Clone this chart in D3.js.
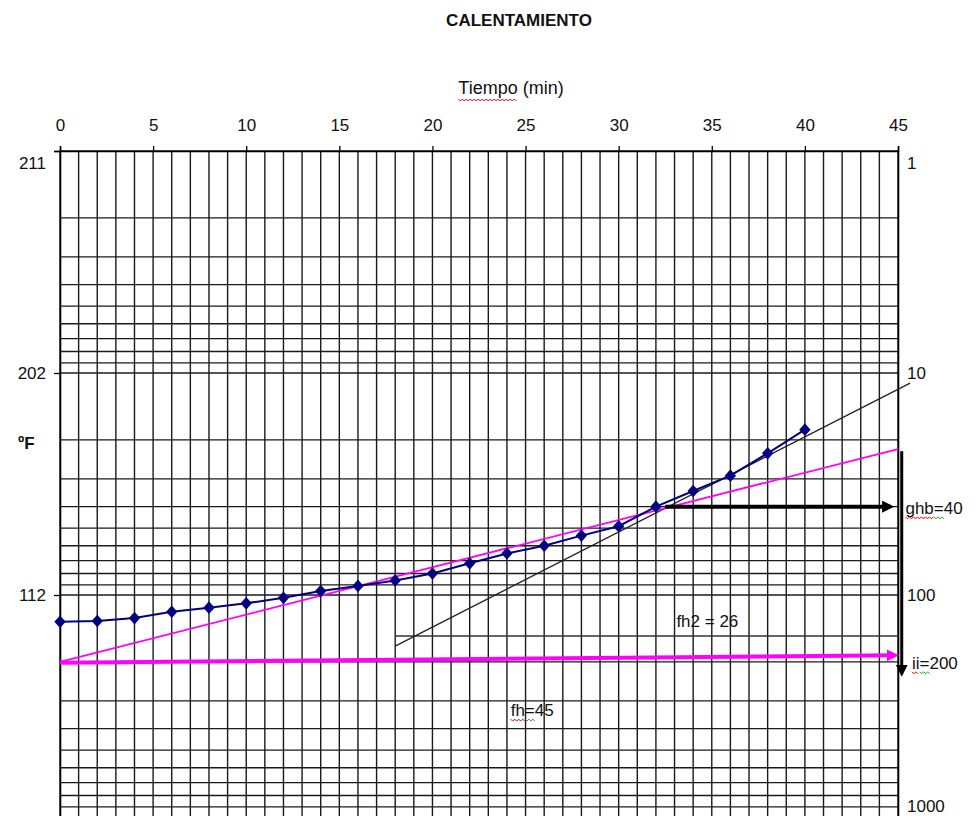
<!DOCTYPE html>
<html>
<head>
<meta charset="utf-8">
<script src="https://cdn.jsdelivr.net/npm/d3@7"></script>
<style>
  body { margin: 0; background: #fff; }
  text { font-family: "Liberation Sans", Arial, sans-serif; fill: #111; }
</style>
</head>
<body>
<div id="chart"></div>
<script>
// data
var minutes = [0, 2, 4, 6, 8, 10, 12, 14, 16, 18, 20, 22, 24, 26, 28, 30, 32, 34, 36, 38, 40];
var values  = [132, 131, 127, 119, 114, 109, 103, 96, 91, 86, 80, 72, 65, 60, 54, 49, 40, 34, 29, 23, 18];
var xTicks = [0, 5, 10, 15, 20, 25, 30, 35, 40, 45];
var rightTicks = [1, 10, 100, 1000];
var leftTicks = [1, 10, 100];
var leftLabels = ["211", "202", "112"];

// hand drawn lines on the chart (minutes, log value)
var blackTrend = [[18, 170], [45.65, 11.1]];
var pinkTrend = [[0, 200], [45, 22]];
var fh2Line = [[18, 153], [45, 153]];
var jiArrow = [[0, 202], [44.85, 187]];
var ghbArrow = [[32.5, 40], [44.6, 40]];
var downArrow = [[45.2, 22.5], [45.2, 225]];
var notes = [
  {t: "fh2 = 26", x: 33.1, v: 131, sq: 0},
  {t: "fh=45", x: 24.2, v: 330, sq: 2},
  {t: "ghb=40", x: 45.4, v: 40.5, sq: 3},
  {t: "ii=200", x: 45.75, v: 202, sq: 2}
];

var W = 977, H = 816;
var svg = d3.select("#chart").append("svg")
  .attr("width", W).attr("height", H);

var x = d3.scaleLinear().domain([0, 45]).range([60, 898]);
var y = d3.scaleLog().domain([1, 1000]).range([151, 817]);

var defs = svg.append("defs");
function marker(id, color, len, wid) {
  defs.append("marker")
    .attr("id", id)
    .attr("markerUnits", "userSpaceOnUse")
    .attr("viewBox", "0 0 10 10")
    .attr("refX", 7).attr("refY", 5)
    .attr("markerWidth", len).attr("markerHeight", wid)
    .attr("orient", "auto")
    .append("path").attr("d", "M0,0L10,5L0,10z").attr("fill", color);
}
marker("arrBlack", "#000", 12, 12);
marker("arrPink", "#ff00ff", 12, 12);

// grid
var grid = svg.append("g");
grid.selectAll(".v").data(d3.range(0, 46)).enter().append("line")
  .attr("x1", function(d) { return x(d); }).attr("x2", function(d) { return x(d); })
  .attr("y1", y(1)).attr("y2", y(1000))
  .attr("stroke", "#1a1a1a").attr("stroke-width", 1.4);
grid.selectAll(".h").data(y.ticks()).enter().append("line")
  .attr("x1", x(0)).attr("x2", x(45))
  .attr("y1", function(d) { return y(d); }).attr("y2", function(d) { return y(d); })
  .attr("stroke", "#1a1a1a").attr("stroke-width", 1.4);

// top axis
var topAx = svg.append("g").attr("transform", "translate(0," + y(1) + ")")
  .call(d3.axisTop(x).tickValues(xTicks).tickSize(5).tickPadding(15));
topAx.select(".domain").attr("stroke", "#000").attr("stroke-width", 1.6);
topAx.selectAll("line").attr("stroke", "#000").attr("stroke-width", 1.3);
topAx.selectAll("text").style("font-size", "17px").attr("fill", "#111");

// left axis
var leftAx = svg.append("g").attr("transform", "translate(" + x(0) + ",0)")
  .call(d3.axisLeft(y).tickValues(leftTicks).tickSize(6).tickPadding(8)
    .tickFormat(function(d, i) { return leftLabels[i]; }));
leftAx.select(".domain").attr("stroke", "#000").attr("stroke-width", 1.6);
leftAx.selectAll("line").attr("stroke", "#000").attr("stroke-width", 1.3);
leftAx.selectAll("text").style("font-size", "17px").attr("fill", "#111")
  .attr("y", function(d) { return Math.max(y(d), 163) - y(d); }).attr("dy", "0.35em");

// right axis
var rightAx = svg.append("g").attr("transform", "translate(" + x(45) + ",0)")
  .call(d3.axisRight(y).tickValues(rightTicks).tickSize(0).tickPadding(9)
    .tickFormat(d3.format("d")));
rightAx.select(".domain").attr("stroke", "#000").attr("stroke-width", 1.6);
rightAx.selectAll("text").style("font-size", "17px").attr("fill", "#111")
  .attr("y", function(d) { return Math.min(Math.max(y(d), 163), 806) - y(d); }).attr("dy", "0.35em");

// titles
svg.append("text").attr("x", 519).attr("y", 26).attr("text-anchor", "middle")
  .style("font-size", "17px").style("font-weight", "bold").text("CALENTAMIENTO");
var xt = svg.append("text").attr("x", 511).attr("y", 94).attr("text-anchor", "middle")
  .style("font-size", "18px").text("Tiempo (min)");
svg.append("text").attr("x", 18).attr("y", 449)
  .style("font-size", "17px").style("font-weight", "bold").text("ºF");

var line = d3.line().x(function(d) { return x(d[0]); }).y(function(d) { return y(d[1]); });

// drawn lines
svg.append("path").datum(fh2Line).attr("d", line)
  .attr("stroke", "#333").attr("stroke-width", 1.3).attr("fill", "none");
svg.append("path").datum(blackTrend).attr("d", line)
  .attr("stroke", "#222").attr("stroke-width", 1.3).attr("fill", "none");
svg.append("path").datum(pinkTrend).attr("d", line)
  .attr("stroke", "#ff00ff").attr("stroke-width", 1.8).attr("fill", "none");
svg.append("path").datum(jiArrow).attr("d", line)
  .attr("stroke", "#ff00ff").attr("stroke-width", 4).attr("fill", "none")
  .attr("marker-end", "url(#arrPink)");
svg.append("path").datum(ghbArrow).attr("d", line)
  .attr("stroke", "#000").attr("stroke-width", 4).attr("fill", "none")
  .attr("marker-end", "url(#arrBlack)");
svg.append("path").datum(downArrow).attr("d", line)
  .attr("stroke", "#000").attr("stroke-width", 3).attr("fill", "none")
  .attr("marker-end", "url(#arrBlack)");

// series
var pts = minutes.map(function(m, i) { return [m, values[i]]; });
svg.append("path").datum(pts).attr("d", line)
  .attr("stroke", "#000080").attr("stroke-width", 2).attr("fill", "none");
svg.selectAll(".pt").data(pts).enter().append("path")
  .attr("d", d3.symbol().type(d3.symbolSquare).size(64))
  .attr("transform", function(d) { return "translate(" + x(d[0]) + "," + y(d[1]) + ") scale(1,1.12) rotate(45)"; })
  .attr("fill", "#000080");

// notes
function squiggle(x0, x1, yy, color) {
  var p = d3.path(); p.moveTo(x0, yy);
  var k = 0;
  for (var xx = x0 + 2; xx <= x1; xx += 2) { k++; p.lineTo(xx, yy + (k % 2 ? 2 : 0)); }
  svg.append("path").attr("d", p.toString()).attr("stroke", color)
    .attr("stroke-width", 1).attr("fill", "none");
}
notes.forEach(function(n) {
  var t = svg.append("text").attr("x", x(n.x)).attr("y", y(n.v)).attr("dy", "0.35em")
    .style("font-size", "17px").text(n.t);
  if (n.sq) {
    var node = t.node();
    var a = node.getStartPositionOfChar(0).x, b = node.getEndPositionOfChar(n.sq - 1).x;
    var c = node.getEndPositionOfChar(n.sq).x;
    squiggle(a, b, y(n.v) + 9, "#e00000");
    squiggle(b, c + 2, y(n.v) + 9, "#2a9a2a");
  }
});
var xn = xt.node();
squiggle(xn.getStartPositionOfChar(0).x, xn.getEndPositionOfChar(5).x, 99, "#e00000");
</script>
</body>
</html>
